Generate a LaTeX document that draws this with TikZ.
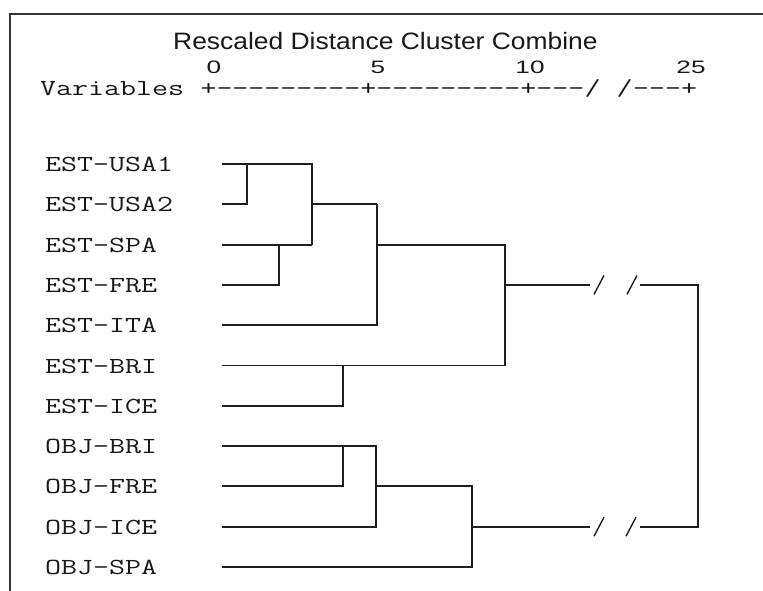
\documentclass[tikz,border=0pt]{standalone}
\usepackage{fontspec}
\usepackage{graphicx}
\newfontfamily\titlefont{Liberation Sans}
\newcommand\sx[2]{\scalebox{#1}[1]{#2}}
\def\yA{164}
\def\yB{204.3}
\def\yC{244.6}
\def\yD{284.9}
\def\yE{325.2}
\def\yF{365.5}
\def\yG{405.8}
\def\yH{446.1}
\def\yI{486.4}
\def\yJ{526.7}
\def\yK{567}
\tikzset{
  leaf/.style={anchor=base west, inner sep=0pt, font=\fontsize{23}{23}\selectfont\ttfamily, text=black!90},
  scale line/.style={leaf, text height=12pt, text depth=0pt},
  ttl/.style={anchor=base west, inner sep=0pt, font=\fontsize{23.7}{24}\selectfont\titlefont, text=black!90},
  num/.style={anchor=base, inner sep=0pt, font=\fontsize{18}{18}\selectfont\titlefont, text=black!90},
  link/.style={line width=1.9pt, draw=black!88, line join=miter},
  brk/.style={line width=1.4pt, draw=black!88},
  frame/.style={line width=2pt, draw=black!80}
}
\begin{document}
\begin{tikzpicture}[x=1pt,y=-1pt]
\useasboundingbox (0,0) rectangle (763,591);
\fill[white] (0,0) rectangle (763,591);
\draw[frame] (10,591) -- (10,14) -- (763,14);
% headings
\node[ttl] (title) at (173,50) {\sx{1.115}{Rescaled Distance Cluster Combine}};
\node[num] (n0) at (214,74) {\sx{1.45}{0}};
\node[num] (n5) at (378,74) {\sx{1.45}{5}};
\node[num] (n10) at (530,74) {\sx{1.45}{10}};
\node[num] (n25) at (691,74) {\sx{1.45}{25}};
\node[scale line] (vars) at (40,96) {\sx{1.35}{Variables}};
\node[scale line] (sc1) at (vars.base east) {\sx{1.35}{\ +---------+---------+---}};
\node[scale line] (scb) at (sc1.base east) {\sx{1.35}{/ /}};
\node[scale line] (sc2) at (scb.base east) {\sx{1.35}{---+}};
% leaves
\foreach \i/\t/\y in {1/EST-USA1/\yA, 2/EST-USA2/\yB, 3/EST-SPA/\yC, 4/EST-FRE/\yD,
  5/EST-ITA/\yE, 6/EST-BRI/\yF, 7/EST-ICE/\yG, 8/OBJ-BRI/\yH, 9/OBJ-FRE/\yI,
  10/OBJ-ICE/\yJ, 11/OBJ-SPA/\yK} {
  \node[leaf] (l\i) at (45,\y+7.5) {\sx{1.35}{\t}};
  \coordinate (s\i) at (222,\y);
}
% junction coordinates
\coordinate (jUSA) at (247,\yA);
\coordinate (jSF) at (279,\yC);
\coordinate (jE4top) at (312,\yA);
\coordinate (jE4bot) at (312,\yC);
\coordinate (jE4) at (312,\yB);
\coordinate (jE5) at (377,\yB);
\coordinate (jE5out) at (377,\yC);
\coordinate (jEtop) at (505,\yC);
\coordinate (jEbot) at (505,\yF);
\coordinate (jBI) at (343,\yF);
\coordinate (jEout) at (505,\yD);
\coordinate (bE1) at (590,\yD);
\coordinate (bE2) at (640,\yD);
\coordinate (jRoot) at (698,\yD);
\coordinate (jRootb) at (698,\yJ);
\coordinate (bO2) at (640,\yJ);
\coordinate (bO1) at (590,\yJ);
\coordinate (jOBF) at (343,\yH);
\coordinate (jO3top) at (376,\yH);
\coordinate (jO3bot) at (376,\yJ);
\coordinate (jO3) at (376,\yI);
\coordinate (jO4top) at (472,\yI);
\coordinate (jO4bot) at (472,\yK);
\coordinate (jOout) at (472,\yJ);
% EST cluster
\draw[link] (s1) -- (jE4top) -- (jE4bot);
\draw[link] (s2) -| (jUSA);
\draw[link] (s3) -- (jE4bot);
\draw[link] (s4) -| (jSF);
\draw[link] (jE4) -- (jE5);
\draw[link] (s5) -| (jE5);
\draw[link] (jE5out) -- (jEtop) -- (jEbot);
\draw[link] (s6) -- (jEbot);
\draw[link] (s7) -| (jBI);
\draw[link] (jEout) -- (bE1);
% OBJ cluster
\draw[link] (s8) -- (jO3top) -- (jO3bot) -- (s10);
\draw[link] (s9) -| (jOBF);
\draw[link] (jO3) -- (jO4top) -- (jO4bot) -- (s11);
\draw[link] (jOout) -- (bO1);
% root
\draw[link] (bE2) -- (jRoot) -- (jRootb) -- (bO2);
% break marks
\foreach \c/\y in {594/\yD, 627/\yD, 594/\yJ, 626/\yJ} {
  \draw[brk] (\c,\y+9.5) -- (\c+10,\y-9.5);
}
\end{tikzpicture}
\end{document}
